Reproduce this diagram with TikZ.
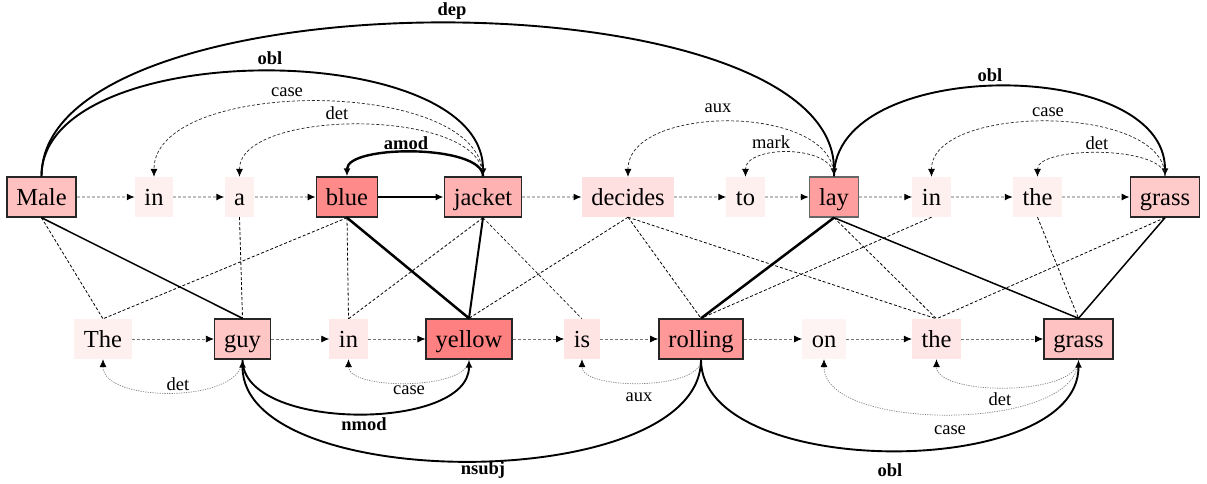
\documentclass[tikz,border=0pt]{standalone}
\usepackage{fontspec}
\setmainfont{Liberation Serif}
\usetikzlibrary{arrows.meta}
\definecolor{cMale}{HTML}{FFC0C0}
\definecolor{cPale}{HTML}{FFF0F0}
\definecolor{cPale2}{HTML}{FFF4F4}
\definecolor{cBlue}{HTML}{FF8A8A}
\definecolor{cJacket}{HTML}{FFB2B2}
\definecolor{cDecides}{HTML}{FFE0E0}
\definecolor{cLay}{HTML}{FF9E9E}
\definecolor{cGrassA}{HTML}{FFCACA}
\definecolor{cGuy}{HTML}{FFC6C6}
\definecolor{cInB}{HTML}{FFE8E8}
\definecolor{cYellow}{HTML}{FF8080}
\definecolor{cIs}{HTML}{FFE4E4}
\definecolor{cRolling}{HTML}{FF9898}
\definecolor{cTheB}{HTML}{FFE6E6}
\definecolor{cGrassB}{HTML}{FFC2C2}
\begin{document}
\begin{tikzpicture}[x=1pt,y=-1pt,
  word/.style={rectangle, inner xsep=9.5pt, inner ysep=0pt, minimum height=40pt,
    text height=20pt, text depth=2.5pt, font=\fontsize{24.5}{29}\selectfont},
  bd/.style={draw=black!85, line width=1.4pt},
  tipA/.style={-{Latex[length=8pt,width=7pt,color=black]}},
  seqtop/.style={tipA, draw=black!25, line width=1.3pt, dash pattern=on 3pt off 2pt},
  seqbot/.style={tipA, draw=black!55, line width=0.8pt, dash pattern=on 3pt off 2pt},
  seqsolid/.style={tipA, draw=black, line width=1.6pt},
  arcthick/.style={tipA, draw=black, line width=1.9pt},
  arcthin/.style={tipA, draw=black!85, line width=0.7pt, dash pattern=on 3pt off 2pt},
  arcdot/.style={tipA, draw=black!50, line width=0.7pt, dash pattern=on 1.2pt off 1.2pt},
  lbl/.style={font=\fontsize{18.5}{22}\selectfont, inner sep=0pt},
  lblb/.style={font=\fontsize{18.5}{22}\selectfont\bfseries, inner sep=0pt},
  aldash/.style={draw=black, line width=0.8pt, dash pattern=on 3pt off 2pt},
  alsolid/.style={draw=black, line width=1.5pt},
  althick/.style={draw=black, line width=2.5pt}
]
\useasboundingbox (0,0) rectangle (1207,484);
% top row
\node[word,bd,fill=cMale] (Male) at (41.5,197) {Male};
\node[word,fill=cPale] (inA) at (154,197) {in};
\node[word,fill=cPale] (a) at (239.5,197) {a};
\node[word,bd,fill=cBlue] (blue) at (347,197) {blue};
\node[word,bd,fill=cJacket] (jacket) at (483,197) {jacket};
\node[word,fill=cDecides] (decides) at (628,197) {decides};
\node[word,fill=cPale] (to) at (745.5,197) {to};
\node[word,draw=black!60,line width=1.4pt,fill=cLay] (lay) at (834,197) {lay};
\node[word,fill=cPale] (inB) at (931.5,197) {in};
\node[word,fill=cPale] (theA) at (1037.5,197) {the};
\node[word,bd,fill=cGrassA] (grassA) at (1165,197) {grass};
% bottom row
\node[word,fill=cPale] (The) at (103,339) {The};
\node[word,bd,fill=cGuy] (guy) at (242.5,339) {guy};
\node[word,fill=cInB] (inC) at (348.5,339) {in};
\node[word,bd,fill=cYellow] (yellow) at (469,339) {yellow};
\node[word,fill=cIs] (is) at (582,339) {is};
\node[word,bd,fill=cRolling] (rolling) at (701,339) {rolling};
\node[word,fill=cPale2] (on) at (824,339) {on};
\node[word,fill=cTheB] (theB) at (936.5,339) {the};
\node[word,bd,fill=cGrassB] (grassB) at (1078.5,339) {grass};
% sequence arrows
\draw[seqtop] (Male) -- (inA);
\draw[seqtop] (inA) -- (a);
\draw[seqtop] (a) -- (blue);
\draw[seqsolid] (blue) -- (jacket);
\draw[seqtop] (jacket) -- (decides);
\draw[seqtop] (decides) -- (to);
\draw[seqtop] (to) -- (lay);
\draw[seqtop] (lay) -- (inB);
\draw[seqtop] (inB) -- (theA);
\draw[seqtop] (theA) -- (grassA);
\draw[seqbot] (The) -- (guy);
\draw[seqbot] (guy) -- (inC);
\draw[seqbot] (inC) -- (yellow);
\draw[seqbot] (yellow) -- (is);
\draw[seqbot] (is) -- (rolling);
\draw[seqbot] (rolling) -- (on);
\draw[seqbot] (on) -- (theB);
\draw[seqbot] (theB) -- (grassB);
% alignment lines
\draw[aldash] (Male.south) -- (The.north);
\draw[alsolid] (Male.south) -- (guy.north);
\draw[aldash] (a.south) -- (guy.north);
\draw[aldash] (blue.south) -- (The.north);
\draw[aldash] (blue.south) -- (inC.north);
\draw[althick] (blue.south) -- (yellow.north);
\draw[aldash] (jacket.south) -- (inC.north);
\draw[alsolid,line width=2pt] (jacket.south) -- (yellow.north);
\draw[aldash,line width=0.6pt] (jacket.south) -- (is.north);
\draw[aldash] (decides.south) -- (yellow.north);
\draw[aldash] (decides.south) -- (rolling.north);
\draw[aldash] (decides.south) -- (theB.north);
\draw[althick] (lay.south) -- (rolling.north);
\draw[aldash] (lay.south) -- (theB.north);
\draw[alsolid] (lay.south) -- (grassB.north);
\draw[aldash] (inB.south) -- (rolling.north);
\draw[aldash] (theA.south) -- (grassB.north);
\draw[aldash] (grassA.south) -- (theB.north);
\draw[alsolid] (grassA.south) -- (grassB.north);
% top arcs
\draw[arcthick] (Male.north) .. controls +(0,-204) and +(0,-204) .. (lay.north);
\draw[arcthick] (Male.north) .. controls +(0,-140) and +(0,-140) .. (jacket.north);
\draw[arcthin] (jacket.north) .. controls +(0,-100) and +(0,-100) .. (inA.north);
\draw[arcthin] (jacket.north) .. controls +(0,-69) and +(0,-69) .. (a.north);
\draw[arcthick,line width=2.4pt] (jacket.north) .. controls +(0,-32) and +(0,-32) .. (blue.north);
\draw[arcthin] (lay.north) .. controls +(0,-73) and +(0,-73) .. (decides.north);
\draw[arcthin] (lay.north) .. controls +(0,-32) and +(0,-32) .. (to.north);
\draw[arcthick] (lay.north) .. controls +(0,-120) and +(0,-120) .. (grassA.north);
\draw[arcthin] (grassA.north) .. controls +(0,-73) and +(0,-73) .. (inB.north);
\draw[arcthin] (grassA.north) .. controls +(0,-31) and +(0,-31) .. (theA.north);
% bottom arcs
\draw[arcdot] (guy.south) .. controls +(0,44) and +(0,44) .. (The.south);
\draw[arcdot] (yellow.south) .. controls +(0,31) and +(0,31) .. (inC.south);
\draw[arcthick] (guy.south) .. controls +(0,72) and +(0,72) .. (yellow.south);
\draw[arcthick] (rolling.south) .. controls +(0,135) and +(0,135) .. (guy.south);
\draw[arcdot] (rolling.south) .. controls +(0,31) and +(0,31) .. (is.south);
\draw[arcdot] (grassB.south) .. controls +(0,37) and +(0,37) .. (theB.south);
\draw[arcdot] (grassB.south) .. controls +(0,73) and +(0,73) .. (on.south);
\draw[arcthick] (rolling.south) .. controls +(0,121) and +(0,121) .. (grassB.south);
% labels
\node[lblb] (ldep) at (452,11) {dep};
\node[lblb] (loblA) at (270,58) {obl};
\node[lbl] (lcaseA) at (287,92) {case};
\node[lbl] (ldetA) at (337,113) {det};
\node[lblb] (lamod) at (406,143) {amod};
\node[lbl] (lauxA) at (718,108) {aux};
\node[lbl] (lmark) at (771,142) {mark};
\node[lblb] (loblB) at (990,75) {obl};
\node[lbl] (lcaseB) at (1048,112) {case};
\node[lbl] (ldetB) at (1097,143) {det};
\node[lbl] (ldetC) at (178,384) {det};
\node[lbl] (lcaseC) at (409,390) {case};
\node[lblb] (lnmod) at (364,424) {nmod};
\node[lblb] (lnsubj) at (483,470) {nsubj};
\node[lbl] (lauxB) at (639,397) {aux};
\node[lbl] (ldetD) at (1000,399) {det};
\node[lbl] (lcaseD) at (950,430) {case};
\node[lblb] (loblC) at (890,470) {obl};
\end{tikzpicture}
\end{document}
